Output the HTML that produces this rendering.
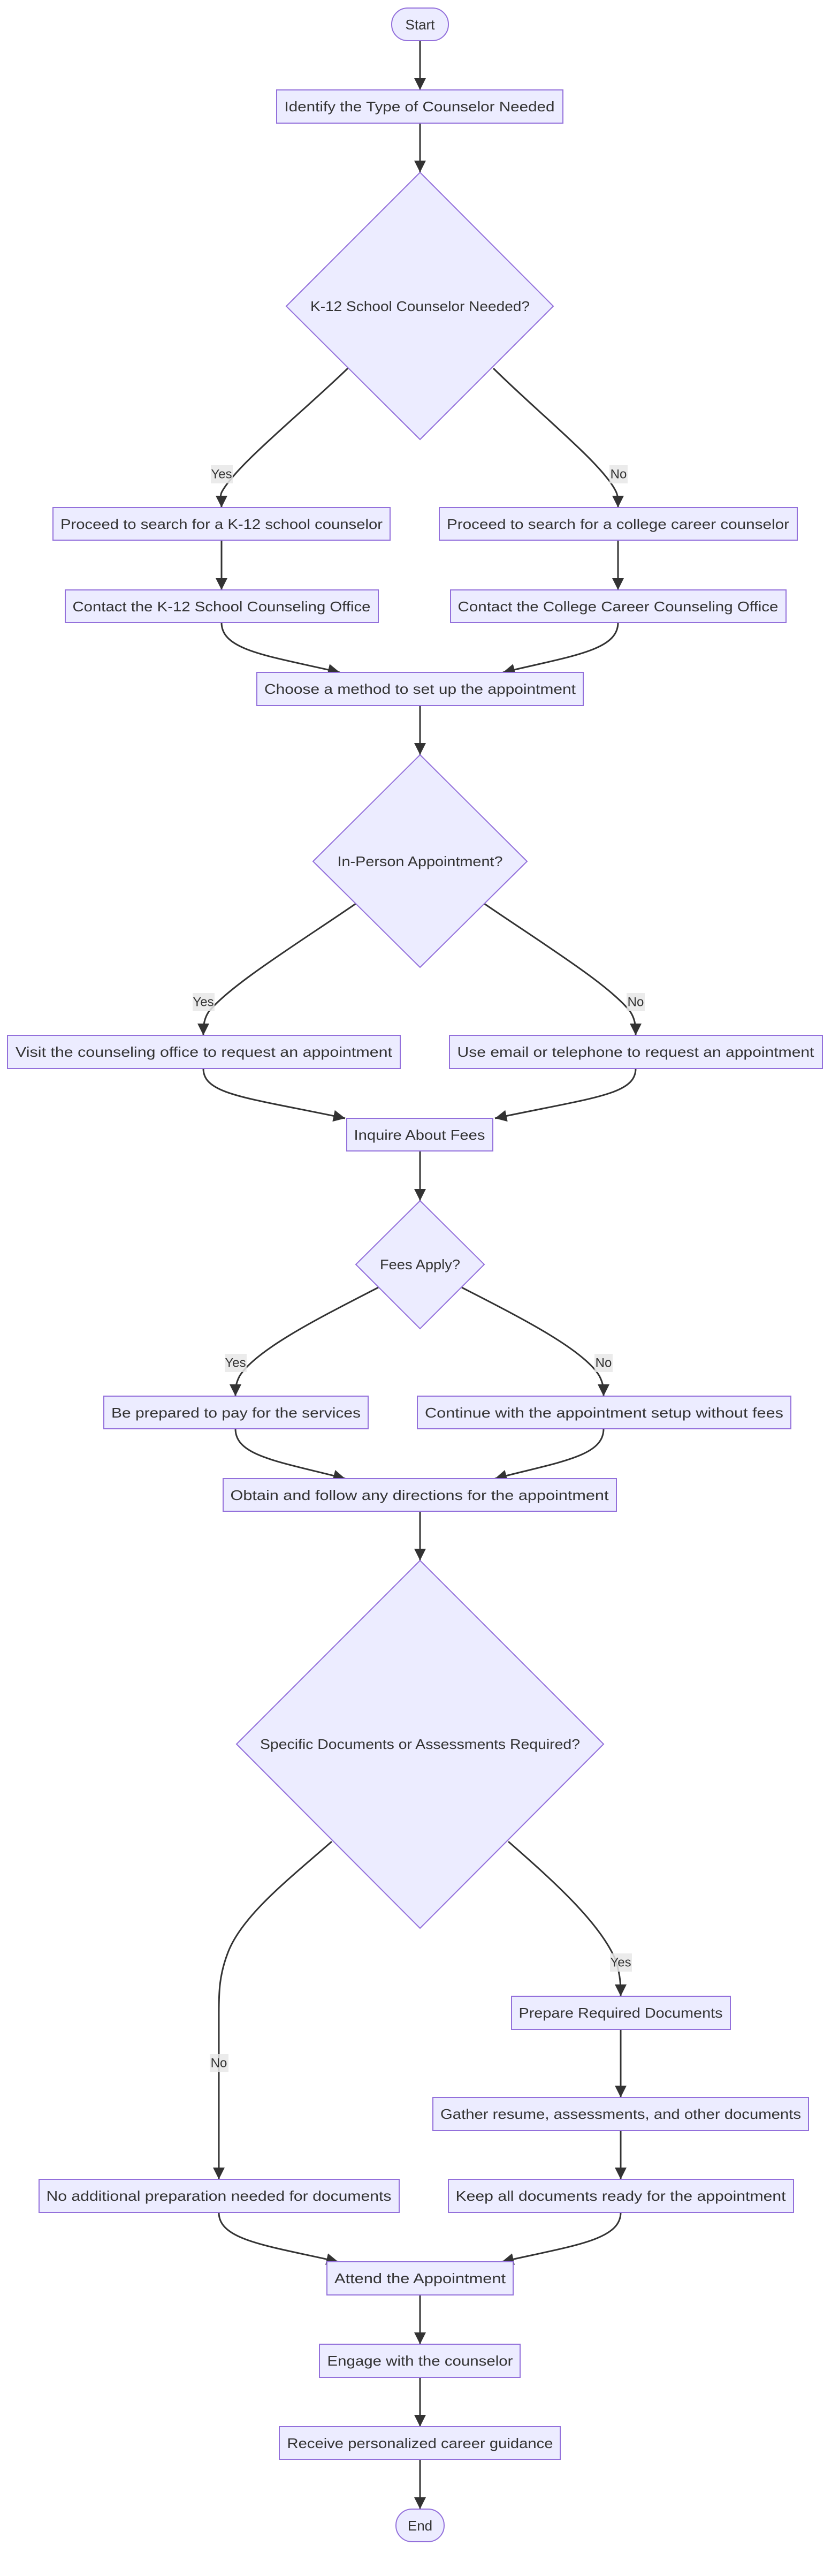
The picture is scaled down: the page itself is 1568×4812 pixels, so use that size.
<!DOCTYPE html>
<html><head><meta charset="utf-8"><style>
html,body{margin:0;padding:0;background:#fff;}
svg{display:block;}
text{font-family:"Liberation Sans","DejaVu Sans",sans-serif;fill:#333;}
.n{fill:#ECECFF;stroke:#9370DB;stroke-width:2;}
.e{fill:none;stroke:#333;stroke-width:3;}
.lb{fill:rgba(232,232,232,0.85);}
</style></head><body>
<svg width="1568" height="4812" viewBox="0 0 1568 4812" xmlns="http://www.w3.org/2000/svg">
<defs><marker id="a" markerWidth="22" markerHeight="22" refX="22" refY="11" orient="auto" markerUnits="userSpaceOnUse"><path d="M0,0 L22,11 L0,22 z" fill="#333"/></marker></defs>

<!-- edges -->
<g class="e" marker-end="url(#a)">
<path d="M785 76 L785 168"/>
<path d="M785 230 L785 322"/>
<path d="M650 688 C560 775 440 870 414 920 C410 930 414 940 414 948"/>
<path d="M922 688 C1010 775 1130 870 1152 920 C1156 930 1155 940 1155 948"/>
<path d="M414 1009 L414 1102"/>
<path d="M1155 1009 L1155 1102"/>
<path d="M414 1163 C414 1215 500 1225 635 1256"/>
<path d="M1155 1163 C1155 1215 1070 1225 940 1256"/>
<path d="M785 1318 L785 1410"/>
<path d="M665 1688 C560 1760 430 1840 390 1890 C380 1905 380 1920 380 1934"/>
<path d="M905 1688 C1010 1760 1140 1840 1178 1890 C1188 1905 1188 1920 1188 1934"/>
<path d="M380 1996 C380 2045 460 2050 645 2089"/>
<path d="M1188 1996 C1188 2045 1110 2050 925 2089"/>
<path d="M785 2150 L785 2243"/>
<path d="M707 2405 C600 2460 480 2520 448 2570 C440 2585 440 2595 440 2608"/>
<path d="M863 2405 C970 2460 1090 2520 1120 2570 C1128 2585 1128 2595 1128 2608"/>
<path d="M440 2669 C440 2720 520 2730 645 2762"/>
<path d="M1128 2669 C1128 2720 1050 2730 925 2762"/>
<path d="M785 2823 L785 2915"/>
<path d="M620 3440 C540 3510 450 3580 425 3650 C410 3690 409 3720 409 3760 L409 4071"/>
<path d="M950 3440 C1030 3510 1120 3590 1150 3660 C1160 3690 1160 3710 1160 3729"/>
<path d="M1160 3791 L1160 3918"/>
<path d="M1160 3980 L1160 4071"/>
<path d="M409 4133 C409 4185 500 4195 632 4225"/>
<path d="M1160 4133 C1160 4185 1070 4195 938 4225"/>
<path d="M785 4287 L785 4379"/>
<path d="M785 4441 L785 4533"/>
<path d="M785 4594 L785 4687"/>
</g>

<!-- edge labels -->
<rect class="lb" x="394" y="869" width="41" height="34"/><text x="414" y="886" font-size="24" text-anchor="middle" dominant-baseline="central">Yes</text>
<rect class="lb" x="1139" y="869" width="34" height="34"/><text x="1156" y="886" font-size="24" text-anchor="middle" dominant-baseline="central">No</text>
<rect class="lb" x="360" y="1855" width="41" height="34"/><text x="380" y="1872" font-size="24" text-anchor="middle" dominant-baseline="central">Yes</text>
<rect class="lb" x="1171" y="1855" width="34" height="34"/><text x="1188" y="1872" font-size="24" text-anchor="middle" dominant-baseline="central">No</text>
<rect class="lb" x="420" y="2529" width="41" height="34"/><text x="440" y="2546" font-size="24" text-anchor="middle" dominant-baseline="central">Yes</text>
<rect class="lb" x="1111" y="2529" width="34" height="34"/><text x="1128" y="2546" font-size="24" text-anchor="middle" dominant-baseline="central">No</text>
<rect class="lb" x="1140" y="3649" width="41" height="34"/><text x="1160" y="3666" font-size="24" text-anchor="middle" dominant-baseline="central">Yes</text>
<rect class="lb" x="392" y="3837" width="35" height="34"/><text x="409" y="3854" font-size="24" text-anchor="middle" dominant-baseline="central">No</text>

<!-- nodes -->
<g font-size="26">
<rect class="n" x="732" y="15" width="106" height="61" rx="30" ry="30"/><text x="785" y="46" text-anchor="middle" dominant-baseline="central">Start</text>
<rect class="n" x="517" y="168" width="535" height="62"/><text x="784" y="199" text-anchor="middle" dominant-baseline="central" textLength="505" lengthAdjust="spacingAndGlyphs">Identify the Type of Counselor Needed</text>
<polygon class="n" points="785,322 1034,572 785,821 535,572"/><text x="785" y="572" text-anchor="middle" dominant-baseline="central" textLength="410" lengthAdjust="spacingAndGlyphs">K-12 School Counselor Needed?</text>
<rect class="n" x="99" y="948" width="630" height="61"/><text x="414" y="979" text-anchor="middle" dominant-baseline="central" textLength="602" lengthAdjust="spacingAndGlyphs">Proceed to search for a K-12 school counselor</text>
<rect class="n" x="821" y="948" width="669" height="61"/><text x="1155" y="979" text-anchor="middle" dominant-baseline="central" textLength="640" lengthAdjust="spacingAndGlyphs">Proceed to search for a college career counselor</text>
<rect class="n" x="122" y="1102" width="585" height="61"/><text x="414" y="1133" text-anchor="middle" dominant-baseline="central" textLength="557" lengthAdjust="spacingAndGlyphs">Contact the K-12 School Counseling Office</text>
<rect class="n" x="842" y="1102" width="627" height="61"/><text x="1155" y="1133" text-anchor="middle" dominant-baseline="central" textLength="599" lengthAdjust="spacingAndGlyphs">Contact the College Career Counseling Office</text>
<rect class="n" x="480" y="1256" width="610" height="62"/><text x="785" y="1287" text-anchor="middle" dominant-baseline="central" textLength="582" lengthAdjust="spacingAndGlyphs">Choose a method to set up the appointment</text>
<polygon class="n" points="785,1410 985,1609 785,1807 585,1609"/><text x="785" y="1609" text-anchor="middle" dominant-baseline="central" textLength="309" lengthAdjust="spacingAndGlyphs">In-Person Appointment?</text>
<rect class="n" x="14" y="1934" width="734" height="62"/><text x="381" y="1965" text-anchor="middle" dominant-baseline="central" textLength="704" lengthAdjust="spacingAndGlyphs">Visit the counseling office to request an appointment</text>
<rect class="n" x="840" y="1934" width="697" height="62"/><text x="1188" y="1965" text-anchor="middle" dominant-baseline="central" textLength="667" lengthAdjust="spacingAndGlyphs">Use email or telephone to request an appointment</text>
<rect class="n" x="648" y="2089" width="273" height="61"/><text x="784" y="2120" text-anchor="middle" dominant-baseline="central" textLength="245" lengthAdjust="spacingAndGlyphs">Inquire About Fees</text>
<polygon class="n" points="785,2243 905,2362 785,2482 665,2362"/><text x="785" y="2362" text-anchor="middle" dominant-baseline="central" textLength="150" lengthAdjust="spacingAndGlyphs">Fees Apply?</text>
<rect class="n" x="194" y="2608" width="494" height="61"/><text x="441" y="2639" text-anchor="middle" dominant-baseline="central" textLength="466" lengthAdjust="spacingAndGlyphs">Be prepared to pay for the services</text>
<rect class="n" x="780" y="2608" width="698" height="61"/><text x="1129" y="2639" text-anchor="middle" dominant-baseline="central" textLength="670" lengthAdjust="spacingAndGlyphs">Continue with the appointment setup without fees</text>
<rect class="n" x="417" y="2762" width="735" height="61"/><text x="784" y="2793" text-anchor="middle" dominant-baseline="central" textLength="707" lengthAdjust="spacingAndGlyphs">Obtain and follow any directions for the appointment</text>
<polygon class="n" points="785,2915 1128,3258 785,3602 442,3258"/><text x="785" y="3258" text-anchor="middle" dominant-baseline="central" textLength="598" lengthAdjust="spacingAndGlyphs">Specific Documents or Assessments Required?</text>
<rect class="n" x="956" y="3729" width="409" height="62"/><text x="1160" y="3760" text-anchor="middle" dominant-baseline="central" textLength="381" lengthAdjust="spacingAndGlyphs">Prepare Required Documents</text>
<rect class="n" x="809" y="3918" width="702" height="62"/><text x="1160" y="3949" text-anchor="middle" dominant-baseline="central" textLength="674" lengthAdjust="spacingAndGlyphs">Gather resume, assessments, and other documents</text>
<rect class="n" x="73" y="4071" width="673" height="62"/><text x="409" y="4102" text-anchor="middle" dominant-baseline="central" textLength="645" lengthAdjust="spacingAndGlyphs">No additional preparation needed for documents</text>
<rect class="n" x="838" y="4071" width="645" height="62"/><text x="1160" y="4102" text-anchor="middle" dominant-baseline="central" textLength="617" lengthAdjust="spacingAndGlyphs">Keep all documents ready for the appointment</text>
<rect class="n" x="611" y="4225" width="348" height="62"/><text x="785" y="4256" text-anchor="middle" dominant-baseline="central" textLength="320" lengthAdjust="spacingAndGlyphs">Attend the Appointment</text>
<rect class="n" x="597" y="4379" width="375" height="62"/><text x="785" y="4410" text-anchor="middle" dominant-baseline="central" textLength="347" lengthAdjust="spacingAndGlyphs">Engage with the counselor</text>
<rect class="n" x="522" y="4533" width="525" height="61"/><text x="785" y="4564" text-anchor="middle" dominant-baseline="central" textLength="497" lengthAdjust="spacingAndGlyphs">Receive personalized career guidance</text>
<rect class="n" x="740" y="4687" width="90" height="61" rx="30" ry="30"/><text x="785" y="4718" text-anchor="middle" dominant-baseline="central">End</text>
</g>
</svg>
</body></html>
